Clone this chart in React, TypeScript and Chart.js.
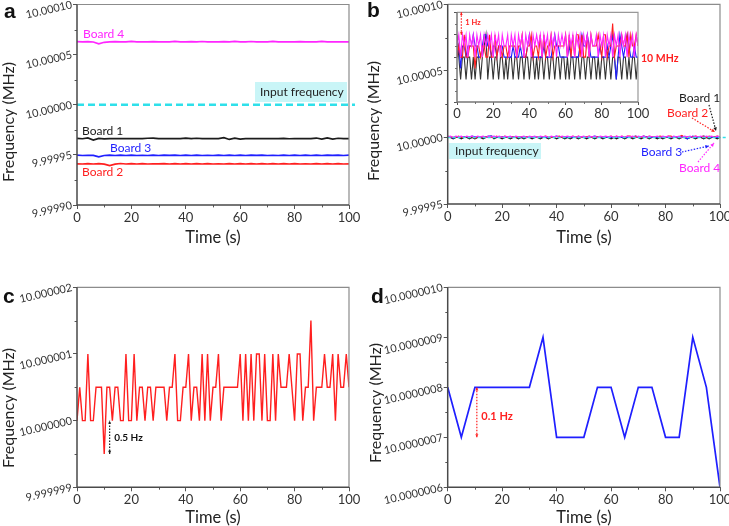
import React, { useEffect, useRef } from "react";
import { Chart, registerables } from "chart.js";

Chart.register(...registerables);

const FONT = "Lato, 'Open Sans', 'DejaVu Sans', sans-serif";
const F0_MHZ = 10; // nominal input frequency (MHz)

// ---------- axes / ticks ----------
const xTickValues = [0, 20, 40, 60, 80, 100];
const xMinorValues = [10, 30, 50, 70, 90];
const yTicksA = [9.9999, 9.99995, 10.0, 10.00005, 10.0001];
const yTicksB = [9.99995, 10.0, 10.00005, 10.0001];
const yTicksC = [9.999999, 10.0, 10.000001, 10.000002];
const yTicksD = [10.0000006, 10.0000007, 10.0000008, 10.0000009, 10.000001];
const yTicksInset = [9.999998, 9.999999, 10.0, 10.000001, 10.000002];

// ---------- panel a: before calibration (offset from 10 MHz, Hz), every 2 s ----------
const timeA = [0, 2, 4, 6, 8, 10, 12, 14, 16, 18, 20, 22, 24, 26, 28, 30, 32, 34, 36, 38, 40, 42, 44, 46, 48, 50, 52, 54, 56, 58, 60, 62, 64, 66, 68, 70, 72, 74, 76, 78, 80, 82, 84, 86, 88, 90, 92, 94, 96, 98, 100];
const board4BeforeHz = [62.9, 62.8, 62.9, 62.6, 60.8, 62.3, 62.8, 62.9, 62.8, 62.7,
  63.3, 62.8, 62.8, 62.7, 62.9, 62.8, 62.8, 62.7, 63.2, 62.8,
  62.8, 62.9, 62.8, 63.1, 62.8, 62.8, 62.7, 62.9, 62.8, 63.2,
  62.8, 62.8, 63.1, 62.8, 62.8, 62.8, 63.2, 62.8, 62.8, 62.8,
  62.8, 63.0, 62.8, 62.8, 62.8, 63.3, 62.8, 62.8, 62.8, 62.8, 62.8];
const board1BeforeHz = [-33.6, -33.9, -33.1, -35.3, -33.6, -34.0, -33.7, -33.8, -33.8, -33.7,
  -33.8, -33.8, -33.7, -33.4, -33.2, -33.8, -33.8, -33.8, -33.8, -33.8,
  -33.3, -33.7, -33.4, -33.8, -33.8, -33.8, -33.8, -32.9, -34.6, -33.3,
  -34.2, -33.8, -33.8, -33.7, -33.8, -33.7, -33.8, -33.8, -33.6, -33.9,
  -33.7, -33.8, -33.8, -33.8, -33.2, -34.2, -33.0, -34.3, -33.4, -33.8, -33.8];
const board3BeforeHz = [-50.3, -50.6, -50.4, -50.5, -52.0, -50.6, -50.3, -50.6, -50.3, -50.6,
  -50.3, -50.6, -50.4, -50.6, -50.3, -50.6, -50.3, -50.5, -50.3, -50.6,
  -50.3, -50.6, -50.3, -50.6, -50.4, -50.6, -50.3, -50.6, -50.3, -50.6,
  -50.3, -50.6, -50.3, -50.5, -50.3, -50.6, -50.4, -50.6, -50.3, -50.6,
  -50.3, -50.6, -50.3, -50.6, -50.3, -50.6, -50.3, -50.5, -50.3, -50.6, -50.3];
const board2BeforeHz = [-58.9, -59.1, -58.7, -59.1, -58.8, -59.2, -60.6, -59.3, -58.6, -59.1,
  -58.8, -59.1, -58.7, -59.1, -58.9, -59.0, -58.7, -59.1, -58.8, -59.1,
  -58.7, -59.1, -58.8, -59.1, -58.7, -59.1, -58.9, -59.1, -58.7, -59.1,
  -58.8, -59.1, -58.7, -59.1, -58.8, -59.1, -58.7, -59.1, -58.8, -59.1,
  -58.7, -59.1, -58.9, -59.1, -58.7, -59.1, -58.8, -59.1, -58.7, -59.1, -58.9];

// ---------- panel b / c: after calibration (offset Hz), every 1 s ----------
const time1s = [0, 1, 2, 3, 4, 5, 6, 7, 8, 9, 10, 11, 12, 13, 14, 15, 16, 17, 18, 19, 20, 21, 22, 23, 24, 25, 26, 27, 28, 29, 30, 31, 32, 33, 34, 35, 36, 37, 38, 39, 40, 41, 42, 43, 44, 45, 46, 47, 48, 49, 50, 51, 52, 53, 54, 55, 56, 57, 58, 59, 60, 61, 62, 63, 64, 65, 66, 67, 68, 69, 70, 71, 72, 73, 74, 75, 76, 77, 78, 79, 80, 81, 82, 83, 84, 85, 86, 87, 88, 89, 90, 91, 92, 93, 94, 95, 96, 97, 98, 99, 100];
const board1AfterHz = [1, 0, -1, 0, 0, -1, 0, 0, -1, 0,
  -1, 0, 0, -1, 0, 0.5, 1, -1, 0, 0,
  -1, 0, 0, -1, 0, 0, -1, 0, -1, 0,
  0, -1, 0, 0, -1, 0, 0, -1, 0, 0,
  -1, 0, 0, -1, 0, -1, 0, 0, -1, 0,
  0, -1, 0, 0, -1, 0, 0, -1, 0, 0,
  -1, 0, -1, 0, 0, -1, 0, 0, -1, 0,
  0, -1, 0, 0, -1, 0, 0, -1, 0, -1,
  0, 0, -1, 0, 0, -1, 0, 0, -1, 0,
  0, -1, 0, 0, -1, 0, -1, 0, 0, -1, 0];
const board2AfterHz = [0, 0.5, 0, 0, 1, 0, 0, 0.5, 0.5, 0.5,
  -0.5, 0.5, 0.5, 0, 0.5, 0.5, 0, 0, 1, 0,
  0, 1, 0, 0.5, 0.5, 0, 0.5, 0.5, 0, 0.5,
  0.5, 0.5, 0.5, 0, 0.5, 0.5, 1, 0, 0, 0.5,
  0.5, 1, 0, 0.5, 0.5, 0, 1, 0, 1, 0,
  0.5, 0.5, 1, 0, 0.5, 0.5, 0.5, 0.5, 0.5, 0.5,
  1, 0, 1, 0, 1, 0, 1, 1, 0, 1,
  0, 0, 1, 0, 1, 0.5, 0.5, 0.5, 1, 0.5,
  0, 1, 1, 0, 0.5, 0.5, 1.5, 0, 0.5, 0.5,
  0.5, 1, 0.5, 0.5, 1, 0, 1, 0.5, 0.5, 1, 0.5];
const board3AfterHz = [0, 0.5, -0.5, 0.5, 0.5, 0, 0.5, 0.5, 0.5, 1,
  0.5, 0.5, 0, 0, 0.5, 1, 1, 0.5, 0.5, 0,
  0.5, 0.5, 0, 0.5, 0.5, 0.5, 0, 0, 0, 0,
  0, 0.5, 0, 0, 0, 0.5, 0, 0, 0, 0.5,
  1, 0.5, 0, 0, 0, 0, 0, 0, 0.5, 0,
  0, 0, 0, 0.5, 1, 0.5, 0.5, 0, 0, 0,
  0, 0, 0.5, 0, 0, 0, 0, 0, 0.5, 1,
  0.5, 0.5, 1, 0.5, 0, 0, 0, 0, 0, 0.5,
  0, 0, 0, 0.5, 0, 0.5, 1, 0, -1, 0,
  1, 0.5, 0, 0.5, 1, 0.5, 0, 0, 0.5, 0, 0];
const board4AfterHz = [0.5, 1, 0, 1, 0.5, 1, 0, 1, 0.5, 1,
  0, 1, 0.5, 1, 0, 1, 0.5, 1, 0.5, 1,
  0, 1, 0.5, 1, 0, 1, 0.5, 0.5, 1, 0,
  1, 0.5, 1, 0, 1, 0.5, 1, 0, 1, 0.5,
  1, 0, 1, 0.5, 1, 0.5, 1, 0, 1, 0.5,
  1, 0, 1, 0.5, 1, 0, 1, 0.5, 1, 0.5,
  1, 0, 1, 0.5, 1, 0, 1, 0.5, 1, 0,
  1, 0.5, 1, 0, 1, 0.5, 0.5, 1, 0, 1,
  0.5, 1, 0, 1, 0.5, 1, 0, 1, 0.5, 1,
  0, 1, 0.5, 1, 0, 1, 0.5, 1, 0, 1, 0.5];

// ---------- panel d: every 5 s ----------
const timeD = [0, 5, 10, 15, 20, 25, 30, 35, 40, 45, 50, 55, 60, 65, 70, 75, 80, 85, 90, 95, 100];
const panelDHz = [0.8, 0.7, 0.8, 0.8, 0.8, 0.8, 0.8, 0.9, 0.7, 0.7, 0.7, 0.8, 0.8, 0.7, 0.8, 0.8, 0.7, 0.7, 0.9, 0.8, 0.6];

// input reference line
const inputLineTime = [0, 102.2];
const inputLineHz = [0, 0];

// annotation anchors (data units)
const arrowC = { t: 12, fromHz: 0, toHz: -0.5 };
const arrowD = { t: 10.7, fromHz: 0.8, toHz: 0.7 };
const arrowInset = { t: 2.4, fromHz: 2, toHz: 1 };

// ---------- colours ----------
const BLACK = "#1c1c1c";
const RED = "#ff1f1f";
const BLUE = "#1f1fff";
const MAGENTA = "#ff26ff";
const CYAN = "#2fe0ea";
const BOX = "#c9f5f7";

const toMHz = (hz: number) => F0_MHZ + hz * 1e-6;
const series = (t: number[], hz: number[]) => t.map((x, i) => ({ x, y: toMHz(hz[i]) }));
const mids = (a: number[]) => a.slice(1).map((v, i) => (v + a[i]) / 2);

const line = (data: any[], color: string, width: number, extra: any = {}) => ({
  data, borderColor: color, borderWidth: width, pointRadius: 0, fill: false, tension: 0, ...extra,
});

// ---------- drawing helpers ----------
function txt(ctx: any, s: string, x: number, y: number, color: string, font: string, align = "left") {
  ctx.save();
  ctx.font = font; ctx.fillStyle = color; ctx.textAlign = align; ctx.textBaseline = "middle";
  ctx.fillText(s, x, y);
  ctx.restore();
}
function letter(ctx: any, s: string, x: number, y: number) {
  ctx.save();
  ctx.font = "bold 21px 'Liberation Sans', Arial, sans-serif"; ctx.fillStyle = "#111";
  ctx.textAlign = "left"; ctx.textBaseline = "alphabetic";
  ctx.fillText(s, x, y);
  ctx.restore();
}
function yTitle(ctx: any, x: number, y: number) {
  ctx.save();
  ctx.translate(x, y); ctx.rotate(-Math.PI / 2);
  ctx.font = `16px ${FONT}`; ctx.fillStyle = "#222"; ctx.textAlign = "center"; ctx.textBaseline = "middle";
  ctx.fillText("Frequency (MHz)", 0, 0);
  ctx.restore();
}
function xTitle(ctx: any, x: number, y: number) {
  txt(ctx, "Time (s)", x, y, "#222", `16.5px ${FONT}`, "center");
}
function inputBox(ctx: any, x: number, y: number, w: number, h: number, tx: number) {
  ctx.save();
  ctx.fillStyle = BOX; ctx.fillRect(x, y, w, h);
  ctx.restore();
  txt(ctx, "Input frequency", tx, y + h / 2, "#222", `12px ${FONT}`);
}
function dottedArrow(ctx: any, x1: number, y1: number, x2: number, y2: number, color: string, both = false, head = 4) {
  ctx.save();
  ctx.strokeStyle = color; ctx.fillStyle = color; ctx.lineWidth = 1.2;
  ctx.setLineDash([1.5, 1.5]);
  ctx.beginPath(); ctx.moveTo(x1, y1); ctx.lineTo(x2, y2); ctx.stroke();
  ctx.setLineDash([]);
  const drawHead = (xa: number, ya: number, xb: number, yb: number) => {
    const a = Math.atan2(yb - ya, xb - xa);
    ctx.beginPath();
    ctx.moveTo(xb, yb);
    ctx.lineTo(xb - head * Math.cos(a - 0.45), yb - head * Math.sin(a - 0.45));
    ctx.lineTo(xb - head * Math.cos(a + 0.45), yb - head * Math.sin(a + 0.45));
    ctx.closePath(); ctx.fill();
  };
  drawHead(x1, y1, x2, y2);
  if (both) drawHead(x2, y2, x1, y1);
  ctx.restore();
}

// ---------- config builder ----------
interface Spec {
  datasets: any[];
  yMin: number; yMax: number; yTicks: number[]; yDigits: number; showYLabels: boolean;
  yWidth: number; xHeight: number; padding: { left: number; top: number; right: number; bottom: number };
  xFont?: number; tickLen?: number; frameLeft?: string; frameOther?: string;
  decor: (ctx: any, chart: any) => void;
}

function buildConfig(s: Spec): any {
  const tl = s.tickLen ?? 4;
  const yMinor = mids(s.yTicks);
  return {
    type: "line",
    data: { datasets: s.datasets },
    options: {
      responsive: false, animation: false, devicePixelRatio: 1,
      layout: { padding: s.padding },
      plugins: { legend: { display: false }, tooltip: { enabled: false }, title: { display: false } },
      scales: {
        x: {
          type: "linear", min: 0, max: 100,
          afterBuildTicks: (ax: any) => { ax.ticks = xTickValues.map((v) => ({ value: v })); },
          afterFit: (ax: any) => { ax.height = s.xHeight; ax.paddingLeft = 0; ax.paddingRight = 0; },
          ticks: {
            autoSkip: false, maxRotation: 0, minRotation: 0, padding: 1, color: "#333",
            font: { family: FONT, size: s.xFont ?? 13 },
            callback: (v: any) => String(v),
          },
          grid: { drawOnChartArea: false, tickLength: tl, color: "#555" },
          border: { display: false },
        },
        y: {
          type: "linear", min: s.yMin, max: s.yMax,
          afterBuildTicks: (ax: any) => { ax.ticks = s.yTicks.map((v) => ({ value: v })); },
          afterFit: (ax: any) => { ax.width = s.yWidth; ax.paddingTop = 0; ax.paddingBottom = 0; },
          ticks: {
            display: s.showYLabels, autoSkip: false, minRotation: 13, maxRotation: 13, padding: 1, color: "#333",
            font: { family: FONT, size: 11 },
            callback: (v: any) => Number(v).toFixed(s.yDigits),
          },
          grid: { drawOnChartArea: false, tickLength: tl, color: "#555" },
          border: { display: false },
        },
      },
    },
    plugins: [
      {
        id: "decor",
        afterDraw(chart: any) {
          const { ctx, chartArea: a, scales } = chart;
          ctx.save();
          // minor ticks
          ctx.strokeStyle = "#555"; ctx.lineWidth = 1;
          ctx.beginPath();
          for (const v of xMinorValues) {
            const px = Math.round(scales.x.getPixelForValue(v)) + 0.5;
            ctx.moveTo(px, a.bottom); ctx.lineTo(px, a.bottom + tl * 0.6);
          }
          for (const v of yMinor) {
            const py = Math.round(scales.y.getPixelForValue(v)) + 0.5;
            ctx.moveTo(a.left, py); ctx.lineTo(a.left - tl * 0.6, py);
          }
          ctx.stroke();
          // frame
          ctx.strokeStyle = s.frameOther ?? "#8c8c8c"; ctx.lineWidth = 1.2;
          ctx.beginPath();
          ctx.moveTo(a.left, a.top); ctx.lineTo(a.right, a.top); ctx.lineTo(a.right, a.bottom);
          ctx.stroke();
          ctx.strokeStyle = s.frameLeft ?? "#4a4a4a"; ctx.lineWidth = 1.5;
          ctx.beginPath();
          ctx.moveTo(a.left, a.top); ctx.lineTo(a.left, a.bottom); ctx.lineTo(a.right, a.bottom);
          ctx.stroke();
          ctx.restore();
          ctx.save();
          s.decor(ctx, chart);
          ctx.restore();
        },
      },
    ],
  };
}

// ---------- panels ----------
const buildA = () => buildConfig({
  datasets: [
    line(series(timeA, board4BeforeHz), MAGENTA, 1.7),
    line(series(timeA, board1BeforeHz), BLACK, 1.7),
    line(series(timeA, board3BeforeHz), BLUE, 1.7),
    line(series(timeA, board2BeforeHz), RED, 1.7),
    line(series(inputLineTime, inputLineHz), CYAN, 2.4, { borderDash: [7, 4], clip: { left: 0, top: 5, right: 6, bottom: 5 } }),
  ],
  yMin: 9.9999, yMax: 10.0001, yTicks: yTicksA, yDigits: 5, showYLabels: true,
  yWidth: 77, xHeight: 58, padding: { left: 0, top: 4.5, right: 15, bottom: 0 },
  decor: (ctx) => {
    letter(ctx, "a", 4, 18);
    yTitle(ctx, 9, 122);
    xTitle(ctx, 213, 238);
    txt(ctx, "Board 4", 83, 34.5, MAGENTA, `12px ${FONT}`);
    txt(ctx, "Board 1", 82, 131, BLACK, `12px ${FONT}`);
    txt(ctx, "Board 3", 110, 148, BLUE, `12px ${FONT}`);
    txt(ctx, "Board 2", 82, 172, RED, `12px ${FONT}`);
    inputBox(ctx, 255, 82, 92, 20, 260);
  },
});

const buildB = () => buildConfig({
  datasets: [
    line(series(inputLineTime, inputLineHz), CYAN, 1.6, { borderDash: [3, 2], clip: { left: 0, top: 5, right: 7, bottom: 5 } }),
    line(series(time1s, board4AfterHz), MAGENTA, 1.2),
    line(series(time1s, board2AfterHz), RED, 1.2),
    line(series(time1s, board3AfterHz), BLUE, 1.2),
    line(series(time1s, board1AfterHz), BLACK, 1.2),
  ],
  yMin: 9.99995, yMax: 10.0001, yTicks: yTicksB, yDigits: 5, showYLabels: true,
  yWidth: 83.7, xHeight: 59, padding: { left: 0, top: 4.3, right: 9, bottom: 0 },
  decor: (ctx) => {
    letter(ctx, "b", 3, 17);
    yTitle(ctx, 10, 121);
    xTitle(ctx, 220, 238);
    inputBox(ctx, 85, 143, 92, 16, 91);
    txt(ctx, "Board 1", 315, 98, BLACK, `12px ${FONT}`);
    txt(ctx, "Board 2", 303, 113, RED, `12px ${FONT}`);
    txt(ctx, "Board 3", 277, 152, BLUE, `12px ${FONT}`);
    txt(ctx, "Board 4", 315, 168, MAGENTA, `12px ${FONT}`);
    dottedArrow(ctx, 345, 105, 352, 131, BLACK);
    dottedArrow(ctx, 328, 118, 351, 132, RED);
    dottedArrow(ctx, 318, 152, 345, 146, BLUE);
    dottedArrow(ctx, 334, 162, 350, 143, MAGENTA);
  },
});

const buildInset = () => buildConfig({
  datasets: [
    line(series(time1s, board4AfterHz), MAGENTA, 1.1),
    line(series(time1s, board2AfterHz), RED, 1.1),
    line(series(time1s, board3AfterHz), BLUE, 1.1),
    line(series(time1s, board1AfterHz), "#333", 1.1),
  ],
  yMin: 9.999998, yMax: 10.000002, yTicks: yTicksInset, yDigits: 6, showYLabels: false,
  yWidth: 17, xHeight: 23, padding: { left: 0, top: 12.3, right: 42, bottom: 0 },
  tickLen: 3, frameLeft: "#777", frameOther: "#999",
  decor: (ctx, chart) => {
    const { x, y } = chart.scales;
    const ax = x.getPixelForValue(arrowInset.t);
    dottedArrow(ctx, ax, y.getPixelForValue(toMHz(arrowInset.toHz)), ax, y.getPixelForValue(toMHz(arrowInset.fromHz)), RED, true, 3);
    txt(ctx, "1 Hz", ax + 4, 23, RED, `bold 7.5px ${FONT}`);
    txt(ctx, "10 MHz", 201, 59, RED, `bold 10.5px ${FONT}`);
  },
});

const buildC = () => buildConfig({
  datasets: [line(series(time1s, board2AfterHz), RED, 1.4)],
  yMin: 9.999999, yMax: 10.000002, yTicks: yTicksC, yDigits: 6, showYLabels: true,
  yWidth: 77, xHeight: 38.7, padding: { left: 0, top: 24.3, right: 15, bottom: 0 },
  decor: (ctx, chart) => {
    letter(ctx, "c", 3, 40);
    yTitle(ctx, 9, 145);
    xTitle(ctx, 213, 255);
    const { x, y } = chart.scales;
    const ax = x.getPixelForValue(arrowC.t);
    dottedArrow(ctx, ax, y.getPixelForValue(toMHz(arrowC.toHz)), ax, y.getPixelForValue(toMHz(arrowC.fromHz)), BLACK, true, 3.5);
    txt(ctx, "0.5 Hz", ax + 4.5, 175, "#111", `bold 10px ${FONT}`);
  },
});

const buildD = () => buildConfig({
  datasets: [line(series(timeD, panelDHz), BLUE, 1.7)],
  yMin: 10.0000006, yMax: 10.000001, yTicks: yTicksD, yDigits: 7, showYLabels: true,
  yWidth: 83.7, xHeight: 38.7, padding: { left: 0, top: 24.3, right: 9, bottom: 0 },
  decor: (ctx, chart) => {
    letter(ctx, "d", 7, 40);
    yTitle(ctx, 12, 140);
    xTitle(ctx, 220, 255);
    const { x, y } = chart.scales;
    const ax = x.getPixelForValue(arrowD.t);
    dottedArrow(ctx, ax, y.getPixelForValue(toMHz(arrowD.toHz)), ax, y.getPixelForValue(toMHz(arrowD.fromHz)), RED, true, 3.5);
    txt(ctx, "0.1 Hz", ax + 4.5, 153, RED, `bold 11px ${FONT}`);
  },
});

function ChartCanvas({ left, top, width, height, build }: { left: number; top: number; width: number; height: number; build: () => any }) {
  const ref = useRef<HTMLCanvasElement>(null);
  useEffect(() => {
    const chart = new Chart(ref.current as HTMLCanvasElement, build());
    return () => chart.destroy();
  }, []);
  return <canvas ref={ref} width={width} height={height} style={{ position: "absolute", left, top, width, height }} />;
}

export default function App() {
  return (
    <div style={{ position: "fixed", left: 0, top: 0, width: 729, height: 526, background: "#fff", overflow: "hidden" }}>
      <ChartCanvas left={0} top={0} width={364} height={263} build={buildA} />
      <ChartCanvas left={364} top={0} width={365} height={263} build={buildB} />
      <ChartCanvas left={440} top={0} width={240} height={125} build={buildInset} />
      <ChartCanvas left={0} top={263} width={364} height={263} build={buildC} />
      <ChartCanvas left={364} top={263} width={365} height={263} build={buildD} />
    </div>
  );
}
